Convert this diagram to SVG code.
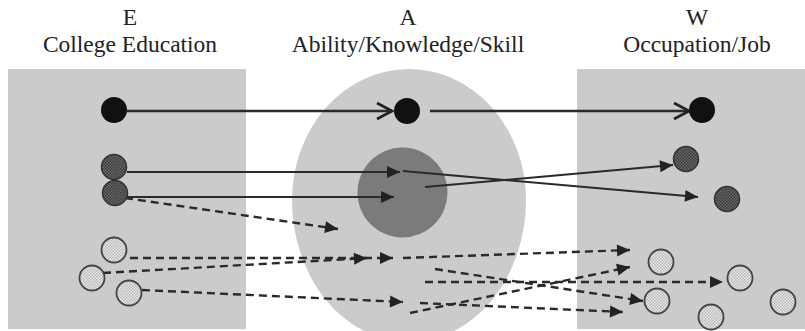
<svg xmlns="http://www.w3.org/2000/svg" width="805" height="331" viewBox="0 0 805 331">
  <style>
    .title { font-family: "Liberation Serif", "Times New Roman", serif; font-size: 23.5px; fill: #222; text-anchor: middle; }
    .zone { fill: #cbcbcc; }
    .solid { fill: #111; }
    .dark { fill: url(#hatchDark); stroke: #333; stroke-width: 1.5; }
    .light { fill: url(#hatchLight); stroke: #444; stroke-width: 1.8; }
    .link { fill: none; stroke: #2a2a2a; stroke-width: 2; }
    .main { stroke-width: 2.6; marker-end: url(#openHead); }
    .tri { marker-end: url(#triHead); }
    .dash { stroke-width: 2.4; stroke-dasharray: 8 5; marker-end: url(#triHead); }
  </style>
  <defs>
    <pattern id="hatchDark" width="3" height="3" patternUnits="userSpaceOnUse">
      <rect width="3" height="3" fill="#6a6a6a"/>
      <rect width="1.5" height="1.5" fill="#3a3a3a"/>
      <rect x="1.5" y="1.5" width="1.5" height="1.5" fill="#3a3a3a"/>
    </pattern>
    <pattern id="hatchLight" width="3" height="3" patternUnits="userSpaceOnUse">
      <rect width="3" height="3" fill="#ececec"/>
      <rect width="1.5" height="1.5" fill="#b4b4b4"/>
      <rect x="1.5" y="1.5" width="1.5" height="1.5" fill="#b4b4b4"/>
    </pattern>
    <marker id="openHead" markerUnits="userSpaceOnUse" markerWidth="20" markerHeight="20" viewBox="-18 -10 20 20" refX="0" refY="0" orient="auto">
      <path d="M -15 -8 L 0 0 L -15 8" fill="none" stroke="#222" stroke-width="2.6"/>
    </marker>
    <marker id="triHead" markerUnits="userSpaceOnUse" markerWidth="16" markerHeight="14" viewBox="-14 -7 16 14" refX="0" refY="0" orient="auto">
      <path d="M -13 -6 L 0 0 L -13 6 Z" fill="#222"/>
    </marker>
  </defs>

  <rect width="805" height="331" fill="#ffffff"/>

  <!-- column headings -->
  <text class="title" x="130" y="25">E</text>
  <text class="title" x="130" y="52">College Education</text>
  <text class="title" x="408" y="25">A</text>
  <text class="title" x="408" y="52">Ability/Knowledge/Skill</text>
  <text class="title" x="697" y="25">W</text>
  <text class="title" x="697" y="52">Occupation/Job</text>

  <!-- regions -->
  <rect class="zone" x="8" y="69" width="238" height="260"/>
  <rect class="zone" x="577" y="69" width="228" height="260"/>
  <path class="zone" d="M 292 200 A 117 131 0 0 1 526 200 A 117 142 0 0 1 292 200 Z"/>
  <circle cx="402.5" cy="192.5" r="45" fill="#7b7b7b"/>

  <!-- connectors -->
  <g id="connectors">
    <line class="link main" x1="127" y1="111" x2="392" y2="111"/>
    <line class="link main" x1="430" y1="111" x2="689" y2="111"/>

    <line class="link tri" x1="127" y1="172" x2="400" y2="172"/>
    <line class="link tri" x1="118" y1="197" x2="394" y2="197"/>
    <line class="link tri" x1="403" y1="171" x2="698" y2="197"/>
    <line class="link tri" x1="425" y1="187" x2="673" y2="165"/>

    <line class="link dash" x1="125" y1="198" x2="338" y2="229"/>
    <line class="link dash" x1="130" y1="258" x2="393" y2="258"/>
    <line class="link dash" x1="103" y1="273" x2="367" y2="258"/>
    <line class="link dash" x1="142" y1="290" x2="403" y2="302"/>
    <line class="link dash" x1="403" y1="258" x2="630" y2="250"/>
    <line class="link dash" x1="410" y1="313" x2="630" y2="267"/>
    <line class="link dash" x1="435" y1="269" x2="643" y2="301"/>
    <line class="link dash" x1="425" y1="282" x2="723" y2="282"/>
    <line class="link dash" x1="420" y1="303" x2="623" y2="312"/>
  </g>

  <!-- education nodes -->
  <g id="e-core"><circle class="solid" cx="114" cy="110" r="13"/></g>
  <g id="e-mid-1"><circle class="dark" cx="114" cy="167" r="12.5"/></g>
  <g id="e-mid-2"><circle class="dark" cx="115" cy="193" r="12.5"/></g>
  <g id="e-low-1"><circle class="light" cx="114" cy="250" r="12.5"/></g>
  <g id="e-low-2"><circle class="light" cx="92" cy="278" r="12.5"/></g>
  <g id="e-low-3"><circle class="light" cx="129" cy="293" r="12.5"/></g>

  <!-- ability node -->
  <g id="a-core"><circle class="solid" cx="407" cy="111" r="13"/></g>

  <!-- occupation nodes -->
  <g id="w-core"><circle class="solid" cx="702" cy="110" r="13"/></g>
  <g id="w-mid-1"><circle class="dark" cx="686" cy="159" r="12.5"/></g>
  <g id="w-mid-2"><circle class="dark" cx="727" cy="199" r="12.5"/></g>
  <g id="w-low-1"><circle class="light" cx="661" cy="262" r="12.5"/></g>
  <g id="w-low-2"><circle class="light" cx="740" cy="278" r="12.5"/></g>
  <g id="w-low-3"><circle class="light" cx="657" cy="301" r="12.5"/></g>
  <g id="w-low-4"><circle class="light" cx="711" cy="317" r="12.5"/></g>
  <g id="w-low-5"><circle class="light" cx="783" cy="302" r="12.5"/></g>
</svg>
